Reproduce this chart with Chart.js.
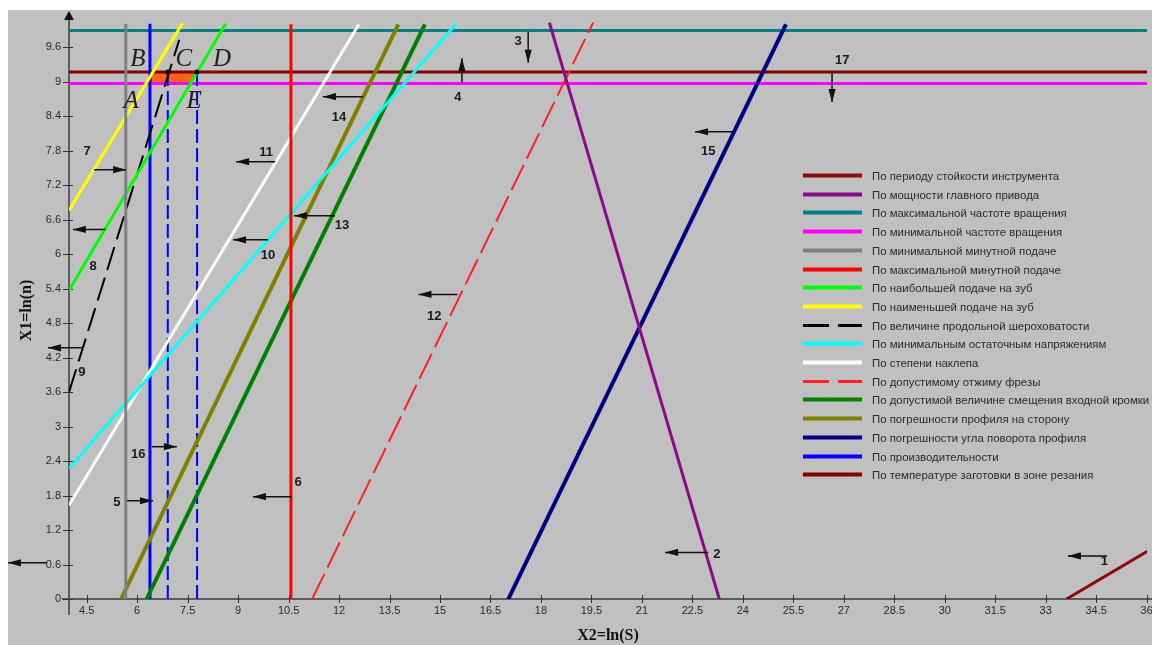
<!DOCTYPE html>
<html><head><meta charset="utf-8">
<script src="https://cdn.jsdelivr.net/npm/chart.js@4.4.0/dist/chart.umd.min.js"></script>
<style>html,body{margin:0;padding:0;background:#fff;overflow:hidden}</style>
</head><body><canvas id="c" width="1152" height="645"></canvas>
<script>
// ---------- DATA ----------
const xTickLabels = ['4.5','6','7.5','9','10.5','12','13.5','15','16.5','18','19.5','21','22.5','24','25.5','27','28.5','30','31.5','33','34.5','36'];
const yTickLabels = ['0','0.6','1.2','1.8','2.4','3','3.6','4.2','4.8','5.4','6','6.6','7.2','7.8','8.4','9','9.6'];
const xRange = [3.974, 36.01];
const yRange = [0, 10.04];

const limitNames = [
  'По периоду стойкости инструмента',
  'По мощности главного привода',
  'По максимальной частоте вращения',
  'По минимальной частоте вращения',
  'По минимальной минутной подаче',
  'По максимальной минутной подаче',
  'По наибольшей подаче на зуб',
  'По наименьшей подаче на зуб',
  'По величине продольной шероховатости',
  'По минимальным остаточным напряжениям',
  'По степени наклепа',
  'По допустимому отжиму фрезы',
  'По допустимой величине смещения входной кромки',
  'По погрешности профиля на сторону',
  'По погрешности угла поворота профиля',
  'По производительности',
  'По температуре заготовки в зоне резания'
];

const toolLifeX = [33.62, 36.02],   toolLifeY = [0, 0.83];
const powerX = [18.25, 23.30],      powerY = [10.03, 0];
const maxSpeedX = [3.974, 36.01],   maxSpeedY = [9.89, 9.89];
const minSpeedX = [3.974, 36.01],   minSpeedY = [8.97, 8.97];
const minMinFeedX = [5.66, 5.66],   minMinFeedY = [0, 10.01];
const maxMinFeedX = [10.57, 10.57], maxMinFeedY = [0, 10.0];
const maxToothFeedX = [3.974, 8.63], maxToothFeedY = [5.37, 10.01];
const minToothFeedX = [3.974, 7.35], minToothFeedY = [6.76, 10.02];
const roughnessX = [3.974, 7.25],   roughnessY = [3.6, 9.73];
const stressX = [3.974, 15.47],     stressY = [2.27, 10.0];
const hardeningX = [3.974, 12.59],  hardeningY = [1.63, 10.0];
const deflectionX = [11.2, 19.55],  deflectionY = [0, 10.03];
const edgeShiftX = [6.28, 14.55],   edgeShiftY = [0, 10.0];
const profileErrX = [5.52, 13.76],  profileErrY = [0, 10.0];
const angleErrX = [17.03, 25.28],   angleErrY = [0, 10.0];
const productivityX = [6.38, 6.38], productivityY = [0, 10.01];
const temperatureX = [3.974, 36.01], temperatureY = [9.17, 9.17];

const prodLeftX = [6.91, 6.91],  prodLeftY = [0, 9.17];
const prodRightX = [7.78, 7.78], prodRightY = [0, 9.17];
const regionX = [6.38, 7.79, 7.59, 6.38, 6.38], regionY = [9.17, 9.17, 8.97, 8.97, 9.17];
const vertexX = [6.91, 7.78], vertexY = [9.17, 9.17];

const numberTexts = ['1','2','3','4','5','6','7','8','9','10','11','12','13','14','15','16','17'];
const numberX = [34.74, 23.23, 17.32, 15.53, 5.40, 10.78, 4.51, 4.69, 4.36, 9.89, 9.83, 14.83, 12.09, 12.0, 22.97, 6.03, 26.95];
const numberY = [0.65, 0.77, 9.70, 8.73, 1.68, 2.02, 7.78, 5.78, 3.94, 5.97, 7.77, 4.91, 6.50, 8.38, 7.78, 2.51, 9.37];

const arrowFromX = [34.82, 22.97, 17.62, 15.65, 5.70, 10.60, 4.72, 5.05, 4.36, 9.89, 10.10, 15.52, 11.88, 12.71, 23.71, 6.44, 26.65, 3.32];
const arrowFromY = [0.75, 0.81, 9.87, 8.99, 1.71, 1.78, 7.47, 6.43, 4.37, 6.25, 7.61, 5.30, 6.67, 8.74, 8.13, 2.65, 9.17, 0.63];
const arrowToX   = [33.66, 21.69, 17.62, 15.65, 6.47, 9.44, 5.67, 4.09, 3.35, 8.85, 8.94, 14.36, 10.66, 11.52, 22.58, 7.18, 26.65, 2.16];
const arrowToY   = [0.75, 0.81, 9.33, 9.41, 1.71, 1.78, 7.47, 6.43, 4.37, 6.25, 7.61, 5.30, 6.67, 8.74, 8.13, 2.65, 8.65, 0.63];

const pointLetters = ['A','B','C','D','E'];
const letterX = [5.82, 6.02, 7.39, 8.52, 7.69];
const letterY = [8.65, 9.39, 9.39, 9.39, 8.65];

// ---------- STYLES ----------
const zip = (xs, ys) => xs.map((x, i) => ({x, y: ys[i]}));
const seriesData = [
  [toolLifeX, toolLifeY], [powerX, powerY], [maxSpeedX, maxSpeedY], [minSpeedX, minSpeedY],
  [minMinFeedX, minMinFeedY], [maxMinFeedX, maxMinFeedY], [maxToothFeedX, maxToothFeedY],
  [minToothFeedX, minToothFeedY], [roughnessX, roughnessY], [stressX, stressY],
  [hardeningX, hardeningY], [deflectionX, deflectionY], [edgeShiftX, edgeShiftY],
  [profileErrX, profileErrY], [angleErrX, angleErrY], [productivityX, productivityY],
  [temperatureX, temperatureY]
];
const seriesColors = ['#8b0a0a','#8a0a8a','#008080','#ff00ff','#808080','#ff0000','#00ff00','#ffff00','#000000','#00ffff','#ffffff','#ff2020','#008000','#808000','#000080','#0000ff','#800000'];
const seriesWidths = [3,3,3,3,3,3,3,3,2,3,3,2,4,4,4,3,3];
const seriesDash = {8: [24, 8], 11: [28, 7]};

const datasets = seriesData.map((d, i) => ({
  label: limitNames[i], data: zip(d[0], d[1]), showLine: true, pointRadius: 0,
  borderColor: seriesColors[i], borderWidth: seriesWidths[i], borderDash: seriesDash[i] || [],
  fill: false, inLegend: true, legendIdx: i, order: (i === 2 || i === 3 || i === 16) ? 5 : 1
}));
datasets.push({label: 'left', data: zip(prodLeftX, prodLeftY), showLine: true, pointRadius: 0, borderColor: '#0000ff', borderWidth: 2, borderDash: [14, 5], order: 2});
datasets.push({label: 'right', data: zip(prodRightX, prodRightY), showLine: true, pointRadius: 0, borderColor: '#0000ff', borderWidth: 2, borderDash: [14, 5], order: 2});
datasets.push({label: 'region', data: zip(regionX, regionY), showLine: true, pointRadius: 0, borderWidth: 0, borderColor: 'rgba(0,0,0,0)', backgroundColor: '#f4621c', fill: 'shape', order: 100});
datasets.push({label: 'vertices', data: zip(vertexX, vertexY), showLine: false, pointRadius: 2.5, pointBackgroundColor: '#000', pointBorderWidth: 0, order: 0});

// ---------- PLUGINS ----------
const bgPlugin = {
  id: 'bg',
  beforeDraw(chart) {
    const c = chart.ctx;
    c.save();
    c.fillStyle = '#ffffff'; c.fillRect(0, 0, chart.width, chart.height);
    c.fillStyle = '#c0c0c0'; c.fillRect(8, 10, chart.width - 8, chart.height - 10);
    c.restore();
  }
};

const axesPlugin = {
  id: 'axes',
  beforeDatasetsDraw(chart) {
    const c = chart.ctx, xs = chart.scales.x, ys = chart.scales.y;
    const x0 = xs.getPixelForValue(xRange[0]), y0 = ys.getPixelForValue(0);
    c.save();
    c.strokeStyle = '#3c3c3c'; c.lineWidth = 1.5;
    c.beginPath(); c.moveTo(x0, 16); c.lineTo(x0, 615); c.stroke();
    c.beginPath(); c.moveTo(62, y0); c.lineTo(chart.width, y0); c.stroke();
    c.fillStyle = '#111';
    c.beginPath(); c.moveTo(x0, 11); c.lineTo(x0 - 5, 20); c.lineTo(x0 + 5, 20); c.closePath(); c.fill();
    c.lineWidth = 1; c.strokeStyle = '#333';
    xs.ticks.forEach(t => { const p = Math.round(xs.getPixelForValue(t.value)) + 0.5; c.beginPath(); c.moveTo(p, y0 - 4); c.lineTo(p, y0 + 4); c.stroke(); });
    ys.ticks.forEach(t => { const p = Math.round(ys.getPixelForValue(t.value)) + 0.5; c.beginPath(); c.moveTo(x0 - 6, p); c.lineTo(x0 + 4, p); c.stroke(); });
    c.restore();
  }
};

function drawArrow(c, x1, y1, x2, y2) {
  const a = Math.atan2(y2 - y1, x2 - x1), L = 13, W = 3.6;
  c.beginPath(); c.moveTo(x1, y1); c.lineTo(x2, y2); c.stroke();
  c.beginPath();
  c.moveTo(x2, y2);
  c.lineTo(x2 - L * Math.cos(a) + W * Math.sin(a), y2 - L * Math.sin(a) - W * Math.cos(a));
  c.lineTo(x2 - L * Math.cos(a) - W * Math.sin(a), y2 - L * Math.sin(a) + W * Math.cos(a));
  c.closePath(); c.fill();
}

const annotPlugin = {
  id: 'annot',
  afterDatasetsDraw(chart) {
    const c = chart.ctx, xs = chart.scales.x, ys = chart.scales.y;
    c.save();
    c.strokeStyle = '#111'; c.fillStyle = '#111'; c.lineWidth = 1.5;
    arrowFromX.forEach((_, i) => drawArrow(c,
      xs.getPixelForValue(arrowFromX[i]), ys.getPixelForValue(arrowFromY[i]),
      xs.getPixelForValue(arrowToX[i]), ys.getPixelForValue(arrowToY[i])));
    c.fillStyle = '#1a1a1a';
    c.font = 'bold 13px "Liberation Sans", Arial, sans-serif';
    c.textAlign = 'center'; c.textBaseline = 'middle';
    numberTexts.forEach((t, i) => c.fillText(t, xs.getPixelForValue(numberX[i]), ys.getPixelForValue(numberY[i])));
    c.font = 'italic 25px "Liberation Serif", "DejaVu Serif", serif';
    c.fillStyle = '#222';
    pointLetters.forEach((t, i) => c.fillText(t, xs.getPixelForValue(letterX[i]), ys.getPixelForValue(letterY[i])));
    c.restore();
  }
};

const legendPlugin = {
  id: 'customLegend',
  afterDraw(chart) {
    const c = chart.ctx;
    const left = 803, right = 862, textX = 872, top = 175, step = 18.7;
    c.save();
    c.font = '11.4px "Liberation Sans", Arial, sans-serif';
    c.textAlign = 'left'; c.textBaseline = 'middle';
    chart.data.datasets.filter(d => d.inLegend).forEach(d => {
      const y = Math.round(top + d.legendIdx * step) + 0.5;
      c.strokeStyle = d.borderColor; c.lineWidth = 4; c.lineCap = 'butt';
      if (d.borderDash && d.borderDash.length) {
        c.lineWidth = 3;
        c.beginPath(); c.moveTo(left, y); c.lineTo(left + 26, y); c.moveTo(left + 35, y); c.lineTo(right, y); c.stroke();
      } else {
        c.beginPath(); c.moveTo(left, y); c.lineTo(right, y); c.stroke();
      }
      c.fillStyle = '#2a2a2a';
      c.fillText(d.label, textX, y + 1);
    });
    c.restore();
  }
};

// ---------- CHART ----------
new Chart(document.getElementById('c'), {
  type: 'scatter',
  data: { datasets },
  options: {
    responsive: false, animation: false, devicePixelRatio: 1,
    layout: { padding: { left: 8, top: 22, right: 5, bottom: 0 } },
    plugins: { legend: { display: false }, tooltip: { enabled: false } },
    scales: {
      x: {
        type: 'linear', min: xRange[0], max: xRange[1],
        grid: { display: false, drawTicks: false }, border: { display: false },
        afterBuildTicks: s => { s.ticks = xTickLabels.map(v => ({ value: Number(v) })); },
        afterFit: s => { s.height = 46; s.paddingLeft = 0; s.paddingRight = 0; },
        ticks: { autoSkip: false, maxRotation: 0, padding: 5, color: '#2a2a2a',
          font: { family: '"Liberation Sans", Arial, sans-serif', size: 11 },
          callback: (v, i) => xTickLabels[i] },
        title: { display: true, text: 'X2=ln(S)', color: '#111',
          font: { family: '"Liberation Serif", serif', size: 16, weight: 'bold' }, padding: { top: 0, bottom: 0 } }
      },
      y: {
        type: 'linear', min: yRange[0], max: yRange[1],
        grid: { display: false, drawTicks: false }, border: { display: false },
        afterBuildTicks: s => { s.ticks = yTickLabels.map(v => ({ value: Number(v) })); },
        afterFit: s => { s.width = 61; s.paddingTop = 0; s.paddingBottom = 0; },
        ticks: { autoSkip: false, padding: 8, color: '#2a2a2a',
          font: { family: '"Liberation Sans", Arial, sans-serif', size: 11 },
          callback: (v, i) => yTickLabels[i] },
        title: { display: true, text: 'X1=ln(n)', color: '#111',
          font: { family: '"Liberation Serif", serif', size: 16, weight: 'bold' }, padding: { top: 9, bottom: 0 } }
      }
    }
  },
  plugins: [bgPlugin, axesPlugin, annotPlugin, legendPlugin]
});
</script>
</body></html>
